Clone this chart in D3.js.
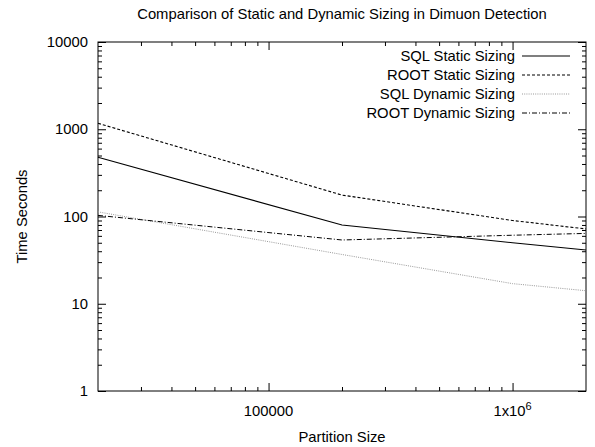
<!DOCTYPE html>
<html>
<head>
<meta charset="utf-8">
<script src="https://cdn.jsdelivr.net/npm/d3@7"></script>
<style>
  body { margin: 0; background: #fff; }
  text { font-family: "Liberation Sans", Arial, Helvetica, sans-serif; font-size: 14.8px; fill: #000; }
  .axis path, .axis line { stroke: #000; }
</style>
</head>
<body>
<div id="chart"></div>
<script>
// values
var partitionSizes = [20000, 200000, 1000000, 2000000];
var sqlStatic = [477, 80, 50, 41.3];
var rootStatic = [1170, 176, 90, 72];
var sqlDynamic = [113, 36.7, 17, 14.1];
var rootDynamic = [103, 53.8, 61, 64];

var seriesNames = ["SQL Static Sizing", "ROOT Static Sizing", "SQL Dynamic Sizing", "ROOT Dynamic Sizing"];
var seriesValues = [sqlStatic, rootStatic, sqlDynamic, rootDynamic];
var seriesStyles = [
  { stroke: "#000", dash: null, width: 1.1 },
  { stroke: "#000", dash: "3,2", width: 1.1 },
  { stroke: "#999", dash: "1,1.2", width: 1 },
  { stroke: "#000", dash: "5,2,1,2", width: 1 }
];

var xMajorTicks = [100000, 1000000];
var yMajorTicks = [1, 10, 100, 1000, 10000];

var width = 595, height = 447;
var margins = { top: 42, right: 9, bottom: 56, left: 98 };
var chartWidth = width - margins.left - margins.right;
var chartHeight = height - margins.top - margins.bottom;

var svg = d3.select("#chart").append("svg")
  .attr("width", width)
  .attr("height", height);

var chartElement = svg.append("g")
  .attr("transform", `translate(${margins.left},${margins.top})`);

var xScale = d3.scaleLog().domain([20000, 2000000]).range([0, chartWidth]);
var yScale = d3.scaleLog().domain([1, 10000]).range([chartHeight, 0]);

// minor ticks 2..9 per decade
function minorTicks(lo, hi) {
  var out = [];
  for (var p = Math.floor(Math.log10(lo)); p <= Math.ceil(Math.log10(hi)); p++) {
    for (var m = 2; m <= 9; m++) {
      var v = m * Math.pow(10, p);
      if (v > lo && v < hi) out.push(v);
    }
  }
  return out;
}
var xMinor = minorTicks(20000, 2000000).filter(v => xMajorTicks.indexOf(v) < 0);
var yMinor = minorTicks(1, 10000);

function addTicks(axisFn, scale, values, size, transform) {
  chartElement.append("g")
    .attr("class", "axis")
    .attr("transform", transform)
    .call(axisFn(scale).tickValues(values).tickSize(size).tickSizeOuter(0).tickFormat(""))
    .call(g => g.select(".domain").remove());
}

// inward ticks on all four sides
addTicks(d3.axisBottom, xScale, xMajorTicks, -8, `translate(0,${chartHeight})`);
addTicks(d3.axisBottom, xScale, xMinor, -4, `translate(0,${chartHeight})`);
addTicks(d3.axisTop, xScale, xMajorTicks, -8, "translate(0,0)");
addTicks(d3.axisTop, xScale, xMinor, -4, "translate(0,0)");
addTicks(d3.axisLeft, yScale, yMajorTicks, -8, "translate(0,0)");
addTicks(d3.axisLeft, yScale, yMinor, -4, "translate(0,0)");
addTicks(d3.axisRight, yScale, yMajorTicks, -8, `translate(${chartWidth},0)`);
addTicks(d3.axisRight, yScale, yMinor, -4, `translate(${chartWidth},0)`);

// border
chartElement.append("rect")
  .attr("x", 0).attr("y", 0)
  .attr("width", chartWidth).attr("height", chartHeight)
  .attr("fill", "none").attr("stroke", "#000").attr("stroke-width", 1);

// y tick labels
chartElement.append("g").selectAll("text")
  .data(yMajorTicks).enter().append("text")
  .attr("x", -10)
  .attr("y", d => yScale(d) + 5)
  .attr("text-anchor", "end")
  .text(d => d);

// x tick labels
var xLabels = chartElement.append("g").selectAll("text")
  .data(xMajorTicks).enter().append("text")
  .attr("x", d => xScale(d))
  .attr("y", chartHeight + 25)
  .attr("text-anchor", "middle");
xLabels.each(function(d) {
  var t = d3.select(this);
  if (d >= 1000000) {
    t.append("tspan").text("1x10");
    t.append("tspan").attr("dy", -6).style("font-size", "11px").text(Math.round(Math.log10(d)));
  } else {
    t.text(d);
  }
});

// lines
var line = d3.line()
  .x((d, i) => xScale(partitionSizes[i]))
  .y(d => yScale(d));

chartElement.append("g").selectAll("path")
  .data(seriesValues).enter().append("path")
  .attr("fill", "none")
  .attr("stroke", (d, i) => seriesStyles[i].stroke)
  .attr("stroke-width", (d, i) => seriesStyles[i].width)
  .attr("stroke-dasharray", (d, i) => seriesStyles[i].dash)
  .attr("d", d => line(d));

// legend
var legend = chartElement.append("g");
seriesNames.forEach(function(name, i) {
  var cy = 14 + i * 19;
  legend.append("text")
    .attr("x", 417).attr("y", cy + 5)
    .attr("text-anchor", "end")
    .text(name);
  legend.append("line")
    .attr("x1", 424).attr("x2", 472)
    .attr("y1", cy).attr("y2", cy)
    .attr("stroke", seriesStyles[i].stroke)
    .attr("stroke-width", seriesStyles[i].width)
    .attr("stroke-dasharray", seriesStyles[i].dash);
});

// titles
svg.append("text")
  .attr("x", margins.left + chartWidth / 2)
  .attr("y", 19)
  .attr("text-anchor", "middle")
  .text("Comparison of Static and Dynamic Sizing in Dimuon Detection");

svg.append("text")
  .attr("x", margins.left + chartWidth / 2)
  .attr("y", 442)
  .attr("text-anchor", "middle")
  .text("Partition Size");

svg.append("text")
  .attr("transform", `translate(27,${margins.top + chartHeight / 2}) rotate(-90)`)
  .attr("text-anchor", "middle")
  .text("Time Seconds");
</script>
</body>
</html>
